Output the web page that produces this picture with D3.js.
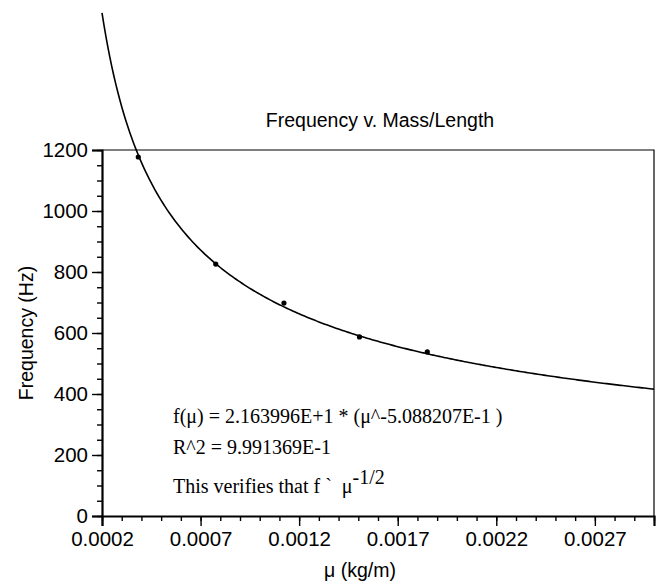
<!DOCTYPE html>
<html>
<head>
<meta charset="utf-8">
<script src="https://cdn.jsdelivr.net/npm/d3@7"></script>
<style>
  body { margin: 0; background: #fff; }
  svg { display: block; }
  text { font-family: "Liberation Sans", Arial, sans-serif; fill: #000; }
  .note { font-family: "Liberation Serif", "Times New Roman", serif; white-space: pre; }
</style>
</head>
<body>
<script>
// measured points
let mu = [0.000384, 0.000777, 0.001123, 0.001506, 0.00185];
let freq = [1177, 826, 698, 587, 538];

// fitted power law f = a * mu^b
let fitA = 21.63996;
let fitB = -0.5088207;

let xTicks = [0.0002, 0.0007, 0.0012, 0.0017, 0.0022, 0.0027];
let yTicks = [0, 200, 400, 600, 800, 1000, 1200];

let width = 660, height = 582;
let plot = {left: 102, right: 654, top: 150, bottom: 516};

let svg = d3.select('body').append('svg')
    .attr('width', width)
    .attr('height', height);

let x = d3.scaleLinear().domain([0.0002, 0.003]).range([plot.left, plot.right]);
let y = d3.scaleLinear().domain([0, 1200]).range([plot.bottom, plot.top]);

// frame (top + right)
svg.append('path')
    .attr('d', `M${plot.left},${plot.top}H${plot.right}V${plot.bottom}`)
    .attr('fill', 'none')
    .attr('stroke', '#000')
    .attr('stroke-width', 1.2);

// minor ticks
let xMinor = d3.range(0.0002, 0.00300001, 0.0001);
let yMinor = d3.range(0, 1201, 50);

let xAxis = svg.append('g').attr('transform', `translate(0,${plot.bottom})`);
xAxis.call(d3.axisBottom(x).tickValues(xMinor).tickSize(5).tickFormat(''));
xAxis.call(g => g.select('.domain').remove());
svg.append('g').attr('transform', `translate(0,${plot.bottom})`)
    .call(d3.axisBottom(x).tickValues(xTicks).tickSize(10).tickPadding(5).tickFormat(d3.format('.4f')));

let yAxis = svg.append('g').attr('transform', `translate(${plot.left},0)`);
yAxis.call(d3.axisLeft(y).tickValues(yMinor).tickSize(5).tickFormat(''));
yAxis.call(g => g.select('.domain').remove());
svg.append('g').attr('transform', `translate(${plot.left},0)`)
    .call(d3.axisLeft(y).tickValues(yTicks).tickSize(10).tickPadding(4).tickFormat(d3.format('d')));

svg.selectAll('.tick line').attr('stroke', '#000').attr('stroke-width', 1.4);
svg.selectAll('.domain').attr('stroke', '#000').attr('stroke-width', 2.2);
svg.selectAll('.tick text').attr('font-size', 20.5).attr('font-family', '"Liberation Sans", Arial, sans-serif');

// fitted curve, not clipped
let curveX = d3.range(0.0002, 0.0030001, 0.00001);
let line = d3.line()
    .x(d => x(d))
    .y(d => y(fitA * Math.pow(d, fitB)));
svg.append('path')
    .datum(curveX)
    .attr('d', line)
    .attr('fill', 'none')
    .attr('stroke', '#000')
    .attr('stroke-width', 1.6);

svg.selectAll('.pt').data(mu).enter().append('circle')
    .attr('class', 'pt')
    .attr('cx', d => x(d))
    .attr('cy', (d, i) => y(freq[i]))
    .attr('r', 2.6)
    .attr('fill', '#000');

// titles
svg.append('text').text('Frequency v. Mass/Length')
    .attr('x', 380).attr('y', 127)
    .attr('text-anchor', 'middle')
    .attr('font-size', 19.5);
svg.append('text').text('μ (kg/m)')
    .attr('x', 360).attr('y', 577)
    .attr('text-anchor', 'middle')
    .attr('font-size', 19.5);
svg.append('text').text('Frequency (Hz)')
    .attr('transform', 'translate(33,333) rotate(-90)')
    .attr('text-anchor', 'middle')
    .attr('font-size', 19.5);

// annotation
let note = svg.append('g').attr('class', 'note');
note.append('text').attr('class', 'note')
    .text('f(μ) = 2.163996E+1 * (μ^-5.088207E-1 )')
    .attr('x', 173).attr('y', 423).attr('font-size', 20);
note.append('text').attr('class', 'note')
    .text('R^2 = 9.991369E-1')
    .attr('x', 173).attr('y', 454).attr('font-size', 20);
let t3 = note.append('text').attr('class', 'note')
    .attr('x', 173).attr('y', 493).attr('font-size', 20);
t3.append('tspan').text('This verifies that f `  μ');
t3.append('tspan').text('-1/2').attr('dy', -9);
</script>
</body>
</html>
